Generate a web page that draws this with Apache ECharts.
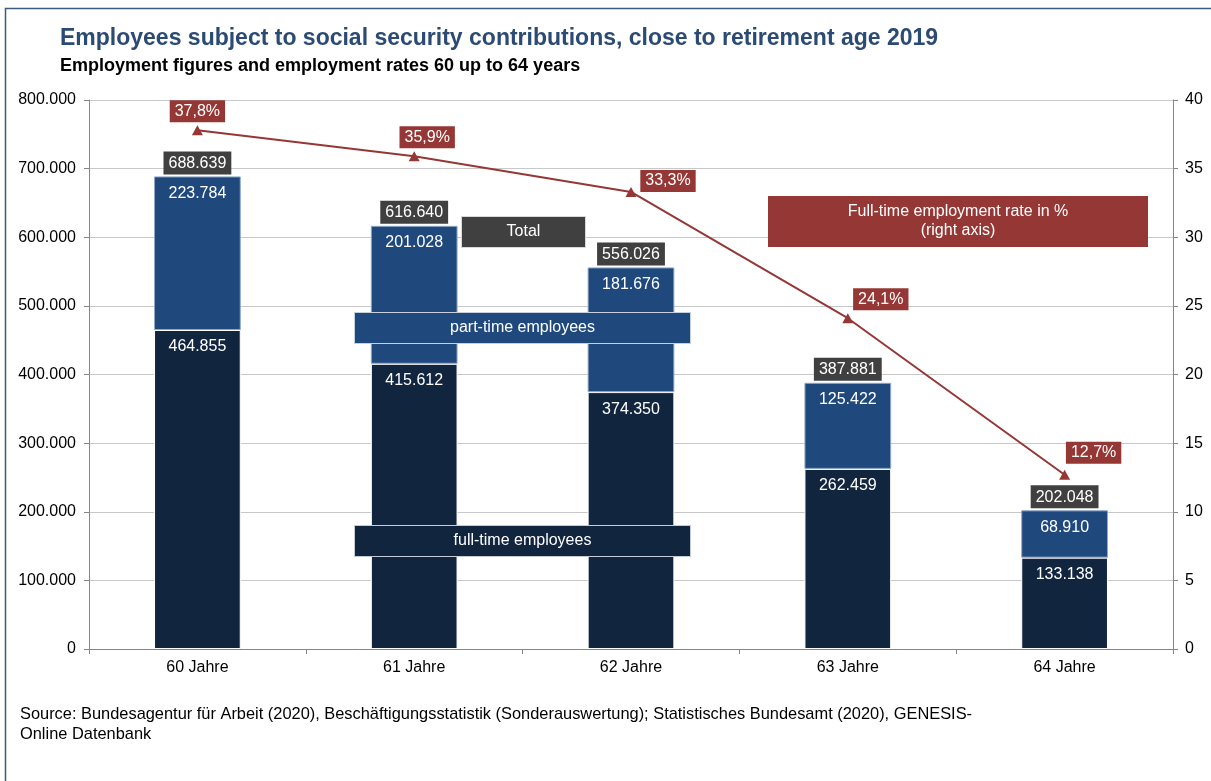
<!DOCTYPE html>
<html>
<head>
<meta charset="utf-8">
<script src="https://cdn.jsdelivr.net/npm/echarts@6/dist/echarts.min.js"></script>
<style>
  html, body { margin: 0; padding: 0; background: #ffffff; }
  #chart { width: 1211px; height: 781px; }
</style>
</head>
<body>
<div id="chart"></div>
<script>
// Age groups and figures (employees subject to social security contributions, 2019)
const categories = ['60 Jahre', '61 Jahre', '62 Jahre', '63 Jahre', '64 Jahre'];
const fullTime = [464855, 415612, 374350, 262459, 133138];
const partTime = [223784, 201028, 181676, 125422, 68910];
const totals = [688639, 616640, 556026, 387881, 202048];
const fullTimeRate = [37.8, 35.9, 33.3, 24.1, 12.7];
const leftTicks = [0, 100000, 200000, 300000, 400000, 500000, 600000, 700000, 800000];

const FONT = 'Liberation Sans, Arial, sans-serif';
const NAVY = '#12253f';
const BLUE = '#1f497d';
const GREY = '#404040';
const RED = '#953735';

// German number formatting: 688639 -> "688.639", 37.8 -> "37,8"
const fmtInt = v => String(Math.round(v)).replace(/\B(?=(\d{3})+(?!\d))/g, '.');
const fmtDec = v => v.toFixed(1).replace('.', ',');

// Rate label offsets so the boxes sit beside the falling line
const rateLabelOffsets = [[0, 0], [13, 0], [37, 8], [33, 0], [29, -3]];

// A caption box (filled rectangle with centred text), drawn above the bars
function captionBox(left, top, width, height, fill, stroke, text) {
  return {
    type: 'group', left: left, top: top,
    children: [
      { type: 'rect', z: 100, shape: { x: 0, y: 0, width: width, height: height },
        style: { fill: fill, stroke: stroke, lineWidth: stroke ? 1 : 0 } },
      { type: 'text', z: 101, x: width / 2, y: height / 2,
        style: { text: text, fill: '#ffffff', font: '16px ' + FONT, align: 'center', verticalAlign: 'middle', lineHeight: 19 } }
    ]
  };
}

const chart = echarts.init(document.getElementById('chart'), null, { renderer: 'canvas' });

const option = {
  animation: false,
  backgroundColor: '#ffffff',
  textStyle: { fontFamily: FONT },
  grid: { left: 89, right: 38, top: 100, bottom: 132, containLabel: false },
  xAxis: {
    type: 'category',
    data: categories,
    axisLine: { lineStyle: { color: '#868686', width: 1 } },
    axisTick: { show: true, length: 5, lineStyle: { color: '#868686' } },
    axisLabel: { color: '#000000', fontSize: 16, margin: 11, fontFamily: FONT },
    splitLine: { show: false }
  },
  yAxis: [
    {
      type: 'value',
      min: leftTicks[0],
      max: leftTicks[leftTicks.length - 1],
      interval: leftTicks[1] - leftTicks[0],
      axisLine: { show: true, lineStyle: { color: '#868686' } },
      axisTick: { show: true, length: 5, lineStyle: { color: '#868686' } },
      axisLabel: { color: '#000000', fontSize: 16, margin: 13, fontFamily: FONT, formatter: fmtInt },
      splitLine: { show: true, lineStyle: { color: '#c8c8c8', width: 1 } }
    },
    {
      type: 'value',
      min: 0,
      max: 40,
      interval: 5,
      position: 'right',
      axisLine: { show: true, lineStyle: { color: '#868686' } },
      axisTick: { show: true, length: 5, lineStyle: { color: '#868686' } },
      axisLabel: { color: '#000000', fontSize: 16, margin: 12, fontFamily: FONT },
      splitLine: { show: false }
    }
  ],
  series: [
    {
      name: 'full-time employees',
      type: 'bar',
      stack: 'emp',
      barWidth: '40%',
      data: fullTime,
      itemStyle: { color: NAVY, borderColor: '#ffffff', borderWidth: 1 },
      label: {
        show: true, position: 'insideTop', distance: 9,
        color: '#ffffff', fontSize: 16, fontFamily: FONT,
        formatter: p => fmtInt(p.value)
      }
    },
    {
      name: 'part-time employees',
      type: 'bar',
      stack: 'emp',
      barWidth: '40%',
      data: partTime,
      itemStyle: { color: BLUE, borderColor: '#8fa6c4', borderWidth: 1 },
      label: {
        show: true, position: 'insideTop', distance: 9,
        color: '#ffffff', fontSize: 16, fontFamily: FONT,
        formatter: p => fmtInt(p.value)
      }
    },
    {
      // total per age group, shown as a grey tag on top of each stacked bar
      name: 'Total',
      type: 'scatter',
      data: totals,
      symbol: 'rect',
      symbolSize: 2,
      itemStyle: { color: 'rgba(0,0,0,0)', opacity: 1 },
      silent: true,
      label: {
        show: true, position: 'top', distance: 1,
        color: '#ffffff', fontSize: 16, fontFamily: FONT,
        backgroundColor: GREY, padding: [4, 5, 3, 5],
        formatter: p => fmtInt(p.value)
      },
      z: 5
    },
    {
      name: 'Full-time employment rate in %',
      type: 'line',
      yAxisIndex: 1,
      data: fullTimeRate.map((v, i) => ({
        value: v,
        label: { offset: rateLabelOffsets[i] }
      })),
      symbol: 'triangle',
      symbolSize: [11, 10],
      itemStyle: { color: RED },
      lineStyle: { color: RED, width: 2 },
      label: {
        show: true, position: 'top', distance: 3,
        color: '#ffffff', fontSize: 16, fontFamily: FONT,
        backgroundColor: RED, padding: [3, 5, 3, 5],
        formatter: p => fmtDec(p.value) + '%'
      },
      z: 6
    }
  ],
  graphic: [
    // frame
    {
      type: 'rect', silent: true, z: 0,
      shape: { x: 5.5, y: 8.5, width: 1300, height: 900 },
      style: { fill: 'none', stroke: '#3f5a80', lineWidth: 1.5 }
    },
    {
      type: 'text', left: 60, top: 27, z: 10,
      style: {
        text: 'Employees subject to social security contributions, close to retirement age 2019',
        fill: '#2b4a74', font: 'bold 23px ' + FONT
      }
    },
    {
      type: 'text', left: 60, top: 57, z: 10,
      style: {
        text: 'Employment figures and employment rates 60 up to 64 years',
        fill: '#000000', font: 'bold 18px ' + FONT
      }
    },
    // series captions
    captionBox(461, 216, 124, 31, GREY, '#d9d9d9', 'Total'),
    captionBox(354, 312, 336, 31, BLUE, '#c5d0de', 'part-time employees'),
    captionBox(354, 525, 336, 31, NAVY, '#c5ccd6', 'full-time employees'),
    captionBox(768, 196, 380, 51, RED, null, 'Full-time employment rate in %\n(right axis)'),
    {
      type: 'text', left: 20, top: 704, z: 10,
      style: {
        text: 'Source: Bundesagentur für Arbeit (2020), Beschäftigungsstatistik (Sonderauswertung); Statistisches Bundesamt (2020), GENESIS-\nOnline Datenbank',
        fill: '#000000', font: '16.4px ' + FONT, lineHeight: 20
      }
    }
  ]
};

chart.setOption(option);
</script>
</body>
</html>
